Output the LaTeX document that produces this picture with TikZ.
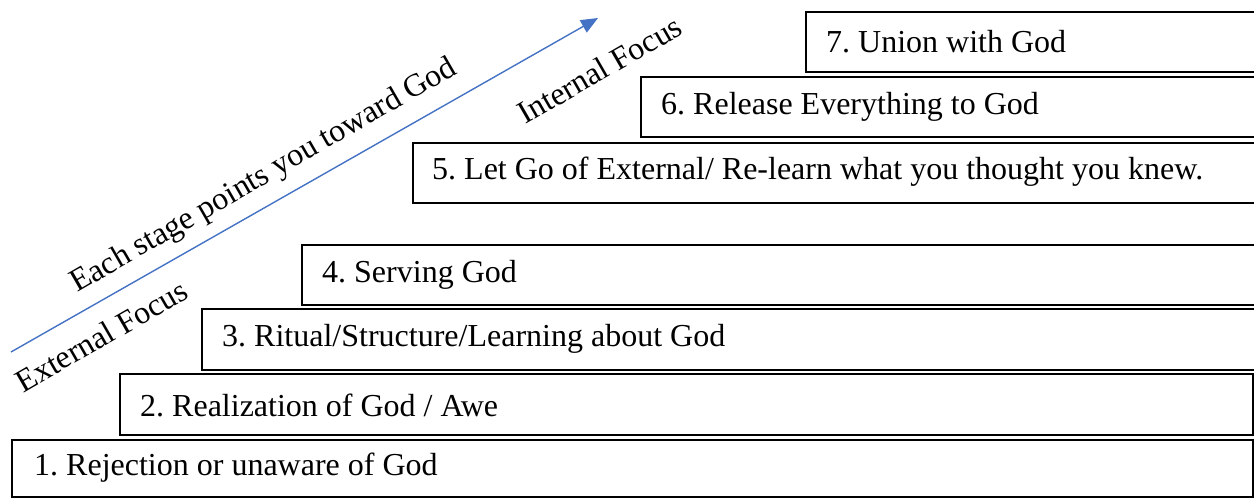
\documentclass[tikz,border=0pt]{standalone}
\usepackage{fontspec}
\setmainfont{Liberation Serif}
\usetikzlibrary{arrows.meta}
\definecolor{arrowblue}{HTML}{4472C4}
\frenchspacing
\tikzset{
  stageframe/.style={draw=black, line width=1.1pt},
  stagetext/.style={anchor=west, inner sep=0pt, font=\fontsize{32}{36}\selectfont},
  slanted/.style={anchor=base, inner sep=0pt, rotate=30, font=\fontsize{32}{36}\selectfont}
}
\begin{document}
\begin{tikzpicture}[x=1pt,y=-1pt]
\useasboundingbox (0,0) rectangle (1254,498);
\clip (0,0) rectangle (1254,498);
% boxes
\draw[stageframe] (12,440) rectangle (1253,497);
\node[stagetext] (t1) at (34,468) {1. Rejection or unaware of God};
\draw[stageframe] (120,374) rectangle (1253,435);
\node[stagetext] (t2) at (140,405) {2. Realization of God / Awe};
\draw[stageframe] (202,309) rectangle (1270,370);
\node[stagetext] (t3) at (222,339) {3. Ritual/Structure/Learning about God};
\draw[stageframe] (302,245) rectangle (1270,305);
\node[stagetext] (t4) at (322,275) {4. Serving God};
\draw[stageframe] (413,143) rectangle (1270,203);
\node[stagetext] (t5) at (432,172) {5. Let Go of External/ Re-learn what you thought you knew.};
\draw[stageframe] (641,77) rectangle (1270,137);
\node[stagetext] (t6) at (661,107) {6. Release Everything to God};
\draw[stageframe] (806,12) rectangle (1270,72);
\node[stagetext] (t7) at (826,42) {7. Union with God};
% arrow
\coordinate (a0) at (11,352);
\coordinate (a1) at (598,18);
\draw[arrowblue, line width=1.4pt, -{Triangle[length=17pt,width=14pt]}] (a0) -- (a1);
% slanted labels
\node[slanted] (each) at (268,183) {Each stage points you toward God};
\node[slanted] (ext) at (107,345) {External Focus};
\node[slanted] (int) at (605,79) {Internal Focus};
\end{tikzpicture}
\end{document}
